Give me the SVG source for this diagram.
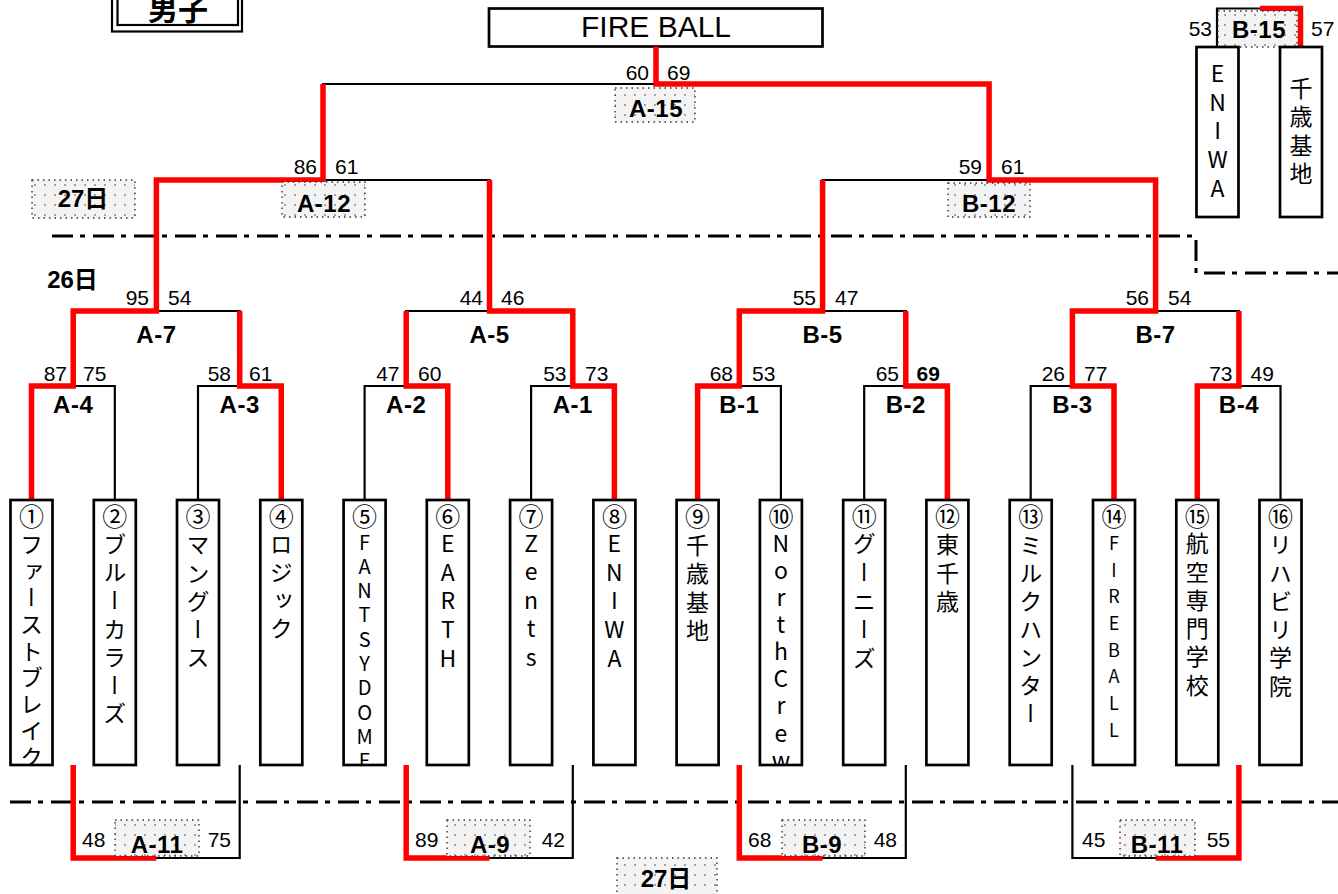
<svg xmlns="http://www.w3.org/2000/svg" width="1338" height="894" viewBox="0 0 1338 894">
<style>
.ln{fill:none;stroke:#000;stroke-width:2.2}
.win{fill:none;stroke:#f00;stroke-width:5.5;stroke-linejoin:miter}
.day{fill:none;stroke:#000;stroke-width:3;stroke-dasharray:21 7 5 8}
.box{fill:#fff;stroke:#000;stroke-width:2.7}
.sh{fill:url(#dots);stroke:#333;stroke-width:1.4;stroke-dasharray:1.5 4}
.sc{font-family:"Liberation Sans",Arial,sans-serif;font-size:21px;fill:#000}
.lb{font-family:"Liberation Sans",Arial,sans-serif;font-size:24px;font-weight:bold;fill:#000;text-anchor:middle;letter-spacing:0.5px}
.jb{font-family:"Liberation Sans","Noto Sans CJK JP",sans-serif;font-size:24px;font-weight:bold;fill:#000;text-anchor:middle}
.num{font-family:"Noto Sans CJK JP",sans-serif;font-size:25px;fill:#000;text-anchor:middle;dominant-baseline:central}
.vt{font-family:"Noto Sans CJK JP",sans-serif;font-size:23px;fill:#000;writing-mode:vertical-rl;text-orientation:upright}
.s20{font-size:20px}
.s18{font-size:18px}
.e{text-anchor:end}
</style>
<defs>
<pattern id="dots" width="10" height="10" patternUnits="userSpaceOnUse">
<rect width="10" height="10" fill="#f4f4f4"/>
<circle cx="5" cy="5" r="1" fill="#8a8a8a"/>
</pattern>
<clipPath id="c1"><rect x="10.5" y="500" width="42" height="265"/></clipPath>
<clipPath id="c5"><rect x="343.6" y="500" width="42" height="265"/></clipPath>
<clipPath id="c10"><rect x="759.9" y="500" width="42" height="265"/></clipPath>
</defs>

<rect width="1338" height="894" fill="#fff"/>

<g id="title-danshi">
<rect x="112" y="-10" width="130" height="41.5" fill="#fff" stroke="#000" stroke-width="2.2"/>
<rect x="117.5" y="-10" width="120.5" height="35" fill="none" stroke="#000" stroke-width="2.2"/>
<text x="178" y="20" style="font-family:'Noto Sans CJK JP',sans-serif;font-size:30px;font-weight:bold" text-anchor="middle">男子</text>
</g>

<g id="champion">
<rect x="489" y="8.5" width="333.5" height="38" fill="#fff" stroke="#000" stroke-width="2.7"/>
<text x="656" y="37" style="font-family:'Liberation Sans',Arial,sans-serif;font-size:30px" text-anchor="middle">FIRE BALL</text>
</g>

<g id="day-lines">
<path class="day" d="M52 236H1196V273H1338"/>
<path class="day" d="M10 802H1338"/>
</g>

<g id="connectors">
<path class="ln" d="M31.5 500V386H114.8V500"/>
<path class="ln" d="M198 500V386H281.3V500"/>
<path class="ln" d="M364.6 500V386H447.8V500"/>
<path class="ln" d="M531.1 500V386H614.4V500"/>
<path class="ln" d="M697.6 500V386H780.9V500"/>
<path class="ln" d="M864.2 500V386H947.4V500"/>
<path class="ln" d="M1030.7 500V386H1114V500"/>
<path class="ln" d="M1197.3 500V386H1280.5V500"/>
<path class="ln" d="M73.2 386V311H239.7V386"/>
<path class="ln" d="M406.2 386V311H572.8V386"/>
<path class="ln" d="M739.3 386V311H905.8V386"/>
<path class="ln" d="M1072.4 386V311H1238.9V386"/>
<path class="ln" d="M156.4 311V180H489.5V311"/>
<path class="ln" d="M822.6 311V180H1155.6V311"/>
<path class="ln" d="M323 180V84H989.1V180"/>
<path class="ln" d="M73.2 765V858H239.7V765"/>
<path class="ln" d="M406.2 765V858H572.8V765"/>
<path class="ln" d="M739.3 765V858H905.8V765"/>
<path class="ln" d="M1072.4 765V858H1238.9V765"/>
<path class="ln" d="M1217 47V8.5H1260"/>
<path class="win" d="M1114 500V386H1072.4V311H1155.6V180H989.1V84H656V46.5"/>
<path class="win" d="M31.5 500V386H73.2V311H156.4V180H323V84"/>
<path class="win" d="M281.3 500V386H239.7V311"/>
<path class="win" d="M447.8 500V386H406.2V311"/>
<path class="win" d="M614.4 500V386H572.8V311H489.5V180"/>
<path class="win" d="M697.6 500V386H739.3V311H822.6V180"/>
<path class="win" d="M947.4 500V386H905.8V311"/>
<path class="win" d="M1197.3 500V386H1238.9V311"/>
<path class="win" d="M73.2 765V858H156.4"/>
<path class="win" d="M406.2 765V858H489.5"/>
<path class="win" d="M739.3 765V858H822.6"/>
<path class="win" d="M1238.9 765V858H1155.6"/>
<path class="win" d="M1260 8.5H1300.5V47"/>
</g>

<g id="scores">
<text class="sc e" x="649" y="80">60</text><text class="sc" x="667" y="80">69</text>
<text class="sc e" x="317" y="174">86</text><text class="sc" x="335" y="174">61</text>
<text class="sc e" x="982" y="174">59</text><text class="sc" x="1001" y="174">61</text>
<text class="sc e" x="149" y="305">95</text><text class="sc" x="168" y="305">54</text>
<text class="sc e" x="483" y="305">44</text><text class="sc" x="501" y="305">46</text>
<text class="sc e" x="816" y="305">55</text><text class="sc" x="835" y="305">47</text>
<text class="sc e" x="1149" y="305">56</text><text class="sc" x="1168" y="305">54</text>
<text class="sc e" x="67" y="381">87</text><text class="sc" x="83" y="381">75</text>
<text class="sc e" x="231" y="381">58</text><text class="sc" x="249" y="381">61</text>
<text class="sc e" x="399.5" y="381">47</text><text class="sc" x="418" y="381">60</text>
<text class="sc e" x="566.5" y="381">53</text><text class="sc" x="585" y="381">73</text>
<text class="sc e" x="733" y="381">68</text><text class="sc" x="752" y="381">53</text>
<text class="sc e" x="899" y="381">65</text><text class="sc" x="916.5" y="381" font-weight="bold">69</text>
<text class="sc e" x="1065" y="381">26</text><text class="sc" x="1084" y="381">77</text>
<text class="sc e" x="1232.5" y="381">73</text><text class="sc" x="1250.5" y="381">49</text>
<text class="sc" x="82" y="847">48</text><text class="sc e" x="231" y="847">75</text>
<text class="sc" x="415" y="847">89</text><text class="sc e" x="565" y="847">42</text>
<text class="sc" x="748" y="847">68</text><text class="sc e" x="897" y="847">48</text>
<text class="sc" x="1082" y="847">45</text><text class="sc e" x="1230" y="847">55</text>
<text class="sc e" x="1212" y="36">53</text><text class="sc" x="1311" y="36">57</text>
</g>

<g id="match-labels">
<text class="lb" x="156.4" y="343">A-7</text>
<text class="lb" x="489.5" y="343">A-5</text>
<text class="lb" x="822.6" y="343">B-5</text>
<text class="lb" x="1155.6" y="343">B-7</text>
<text class="lb" x="73.2" y="413">A-4</text>
<text class="lb" x="239.7" y="413">A-3</text>
<text class="lb" x="406.2" y="413">A-2</text>
<text class="lb" x="572.8" y="413">A-1</text>
<text class="lb" x="739.3" y="413">B-1</text>
<text class="lb" x="905.8" y="413">B-2</text>
<text class="lb" x="1072.4" y="413">B-3</text>
<text class="lb" x="1238.9" y="413">B-4</text>
</g>

<g id="lbl-A15"><rect class="sh" x="615" y="88" width="80" height="34"/><text class="lb" x="656" y="117">A-15</text></g>
<g id="lbl-A12"><rect class="sh" x="282" y="182" width="83" height="35"/><text class="lb" x="324" y="212">A-12</text></g>
<g id="lbl-B12"><rect class="sh" x="948" y="183" width="82" height="34"/><text class="lb" x="989" y="212">B-12</text></g>
<g id="lbl-27a"><rect class="sh" x="32" y="180" width="103" height="38"/><text class="jb" x="83" y="207">27日</text></g>
<g id="lbl-B15"><rect class="sh" x="1218" y="11" width="79" height="36"/><text class="lb" x="1259" y="38">B-15</text></g>
<g id="lbl-A11"><rect class="sh" x="115" y="820" width="84" height="36"/><text class="lb" x="157" y="853">A-11</text></g>
<g id="lbl-A9"><rect class="sh" x="447" y="820" width="83" height="36"/><text class="lb" x="490" y="853">A-9</text></g>
<g id="lbl-B9"><rect class="sh" x="782" y="820" width="83" height="36"/><text class="lb" x="822" y="853">B-9</text></g>
<g id="lbl-B11"><rect class="sh" x="1120" y="820" width="75" height="36"/><text class="lb" x="1157" y="853">B-11</text></g>
<g id="lbl-27b"><rect class="sh" x="617" y="858" width="100" height="38"/><text class="jb" x="666" y="887">27日</text></g>
<g id="lbl-26"><text class="jb" x="72.5" y="288">26日</text></g>

<g id="team1"><rect class="box" x="10.5" y="500" width="42" height="265"/><text class="num" x="31.5" y="515">①</text><text class="vt" clip-path="url(#c1)" x="31.5" y="533 559.6 586.2 612.8 639.4 666 692.6 719.2 745.8">ファーストブレイク</text></g>
<g id="team2"><rect class="box" x="93.8" y="500" width="42" height="265"/><text class="num" x="114.8" y="515">②</text><text class="vt" x="114.8" y="533 561.1 589.2 617.3 645.4 673.5 701.6">ブルーカラーズ</text></g>
<g id="team3"><rect class="box" x="177" y="500" width="42" height="265"/><text class="num" x="198" y="515">③</text><text class="vt" x="198" y="533 561.3 589.6 617.9 646.2">マングース</text></g>
<g id="team4"><rect class="box" x="260.3" y="500" width="42" height="265"/><text class="num" x="281.3" y="515">④</text><text class="vt" x="281.3" y="533 560.8 588.6 616.4">ロジック</text></g>
<g id="team5"><rect class="box" x="343.6" y="500" width="42" height="265"/><text class="num" x="364.6" y="515">⑤</text><text class="vt s20" clip-path="url(#c5)" x="364.6" y="532 556.3 580.6 604.9 629.2 653.5 677.8 702.1 726.4 750.7">FANTSYDOME</text></g>
<g id="team6"><rect class="box" x="426.8" y="500" width="42" height="265"/><text class="num" x="447.8" y="515">⑥</text><text class="vt" x="447.8" y="531.6 560.3 589 617.7 646.4">EARTH</text></g>
<g id="team7"><rect class="box" x="510.1" y="500" width="42" height="265"/><text class="num" x="531.1" y="515">⑦</text><text class="vt" x="531.1" y="531.6 560.1 588.6 617.1 645.6">Zents</text></g>
<g id="team8"><rect class="box" x="593.4" y="500" width="42" height="265"/><text class="num" x="614.4" y="515">⑧</text><text class="vt" x="614.4" y="531.6 560.3 589 617.7 646.4">ENIWA</text></g>
<g id="team9"><rect class="box" x="676.6" y="500" width="42" height="265"/><text class="num" x="697.6" y="515">⑨</text><text class="vt" x="697.6" y="533.5 562 590.5 619">千歳基地</text></g>
<g id="team10"><rect class="box" x="759.9" y="500" width="42" height="265"/><text class="num" x="780.9" y="515">⑩</text><text class="vt" clip-path="url(#c10)" x="780.9" y="531.6 558.7 585.8 612.9 640 667.1 694.2 721.3 748.4">NorthCrew</text></g>
<g id="team11"><rect class="box" x="843.2" y="500" width="42" height="265"/><text class="num" x="864.2" y="515">⑪</text><text class="vt" x="864.2" y="532 560.7 589.4 618.1 646.8">グーニーズ</text></g>
<g id="team12"><rect class="box" x="926.4" y="500" width="42" height="265"/><text class="num" x="947.4" y="515">⑫</text><text class="vt" x="947.4" y="533 561.5 590">東千歳</text></g>
<g id="team13"><rect class="box" x="1009.7" y="500" width="42" height="265"/><text class="num" x="1030.7" y="515">⑬</text><text class="vt" x="1030.7" y="534 561.9 589.8 617.7 645.6 673.5 701.4">ミルクハンター</text></g>
<g id="team14"><rect class="box" x="1093" y="500" width="42" height="265"/><text class="num" x="1114" y="515">⑭</text><text class="vt s18" x="1114" y="534 560.7 587.4 614.1 640.8 667.5 694.2 720.9">FIREBALL</text></g>
<g id="team15"><rect class="box" x="1176.3" y="500" width="42" height="265"/><text class="num" x="1197.3" y="515">⑮</text><text class="vt" x="1197.3" y="532 560.3 588.6 616.9 645.2 673.5">航空専門学校</text></g>
<g id="team16"><rect class="box" x="1259.5" y="500" width="42" height="265"/><text class="num" x="1280.5" y="515">⑯</text><text class="vt" x="1280.5" y="533 561.3 589.6 617.9 646.2 674.5">リハビリ学院</text></g>

<g id="b15-eniwa"><rect class="box" x="1196.5" y="47" width="42" height="170"/><text class="vt" x="1217.5" y="61.6 90.4 119.1 147.9 176.6">ENIWA</text></g>
<g id="b15-chitose"><rect class="box" x="1280" y="47" width="42" height="170"/><text class="vt" x="1301" y="76.5 105 133.5 162">千歳基地</text></g>
</svg>
